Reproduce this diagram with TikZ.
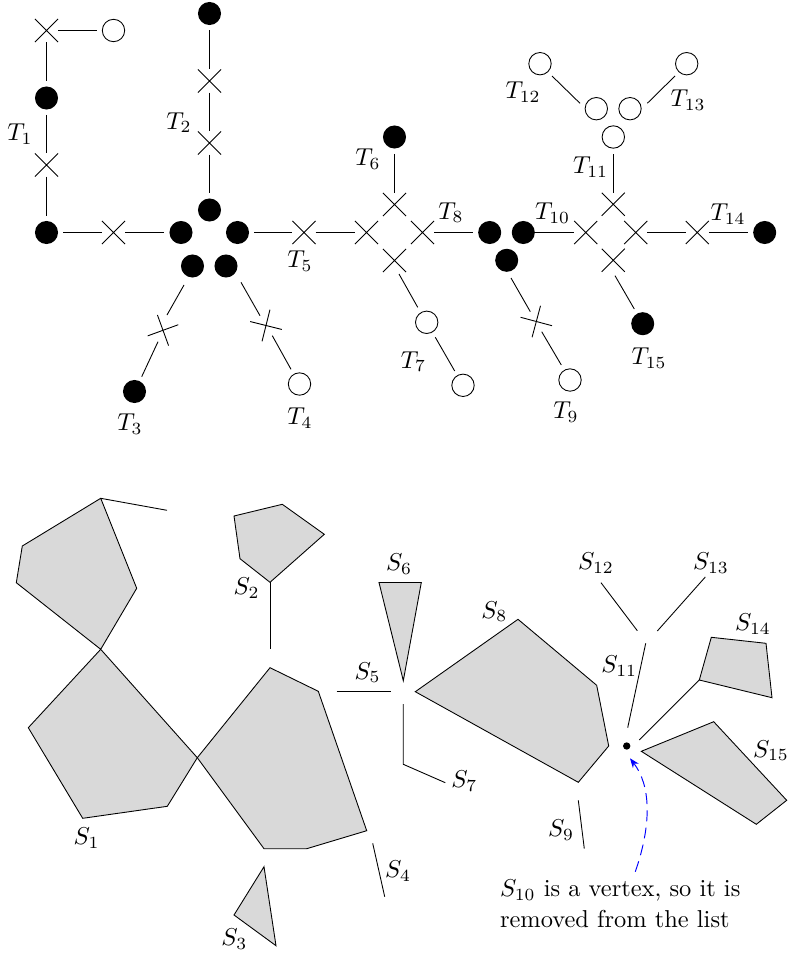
\documentclass[tikz,border=0pt]{standalone}
\usetikzlibrary{shapes.misc,arrows.meta}
\tikzset{
  blk/.style={circle,fill=black,minimum size=14.4pt,inner sep=0pt,outer sep=3.4pt},
  opn/.style={circle,draw=black,line width=0.55pt,minimum size=14pt,inner sep=0pt,outer sep=3.5pt},
  crs/.style={cross out,draw=black,line width=0.55pt,minimum size=14.4pt,inner sep=0pt,outer sep=0pt},
  lab/.style={inner sep=0pt,outer sep=0pt,scale=1.527},
  poly/.style={draw=black,fill=black!15,line width=0.55pt,line join=miter},
  seg/.style={draw=black,line width=0.55pt},
}
\newcommand{\off}[3]{([shift={(#2,#3)}]#1.center)}
\begin{document}
\begin{tikzpicture}[x=0.625pt,y=-0.625pt]
\useasboundingbox (0,0) rectangle (787,954);
% T tree nodes
\node[crs] (c1) at (46.5,30.5) {};
\node[opn] (o1) at (113.5,30.5) {};
\node[blk] (b1) at (46.5,98) {};
\node[crs] (c2) at (46.5,165) {};
\node[blk] (b2) at (46.5,232.5) {};
\node[crs] (c3) at (113.5,232.5) {};
\node[blk] (b3) at (181,232.5) {};
\node[blk] (b4) at (209.5,13.5) {};
\node[crs] (c4) at (209.5,81) {};
\node[crs] (c5) at (209.5,143) {};
\node[blk] (b5) at (209.5,210) {};
\node[blk] (b6) at (237.5,232.5) {};
\node[crs] (c6) at (304,232.5) {};
\node[crs] (c7) at (366.5,232.5) {};
\node[blk] (b7) at (192.5,266) {};
\node[blk] (b8) at (226,266) {};
\node[crs,rotate=-25] (c8) at (163,330.3) {};
\node[blk] (b9) at (134.5,391.5) {};
\node[crs,rotate=31] (c9) at (266,325.5) {};
\node[opn] (o2) at (299.5,384) {};
\node[blk] (b10) at (394.5,137) {};
\node[crs] (c10) at (394.5,204.5) {};
\node[crs] (c11) at (422.5,232.5) {};
\node[crs] (c12) at (394.5,260.5) {};
\node[opn] (o3) at (426.7,322.3) {};
\node[opn] (o4) at (463,385.3) {};
\node[blk] (b11) at (489.7,232.5) {};
\node[blk] (b12) at (523.3,232.5) {};
\node[blk] (b13) at (506.7,260.3) {};
\node[crs,rotate=30] (c13) at (536.3,321.5) {};
\node[opn] (o5) at (570,380) {};
\node[crs] (c14) at (585.7,232.5) {};
\node[crs] (c15) at (613.3,204.3) {};
\node[crs] (c16) at (635.7,232.5) {};
\node[crs] (c17) at (613.3,260.3) {};
\node[crs] (c18) at (697.3,232.5) {};
\node[blk] (b14) at (764.7,232.5) {};
\node[blk] (b15) at (642.7,323.7) {};
\node[opn] (o6) at (613.3,137) {};
\node[opn] (o7) at (596.3,108.7) {};
\node[opn] (o8) at (630,108.7) {};
\node[opn] (o9) at (540,63.7) {};
\node[opn] (o10) at (686.7,63.7) {};
% T tree connectors
\foreach \a/\b in {c1/o1,c1/b1,b1/c2,c2/b2,b2/c3,c3/b3,b4/c4,c4/c5,c5/b5,b6/c6,c6/c7,
  b10/c10,c11/b11,c15/o6,c16/c18,c18/b14}
  \draw[seg] (\a) -- (\b);
\draw[seg] \off{b12}{11.5}{0} -- (c14);
\draw[seg] \off{b7}{-8.5}{19} -- \off{c8}{4}{-15.3};
\draw[seg] \off{c8}{-5}{11.4} -- \off{b9}{7.2}{-14.8};
\draw[seg] \off{b8}{15}{16.3} -- \off{c9}{-6}{-9.8};
\draw[seg] \off{c9}{6.3}{10.2} -- \off{o2}{-8.5}{-14.7};
\draw[seg] \off{c12}{4.5}{13.5} -- \off{o3}{-9}{-15};
\draw[seg] \off{o3}{8.6}{15} -- \off{o4}{-8.3}{-14.3};
\draw[seg] \off{b13}{4.3}{17.7} -- \off{c13}{-6}{-9.8};
\draw[seg] \off{c13}{5.4}{10.2} -- \off{o5}{-8.7}{-15};
\draw[seg] \off{c17}{1.7}{15.4} -- \off{b15}{-8.4}{-14.7};
\draw[seg] \off{o9}{12}{12.3} -- \off{o7}{-16.3}{-5.4};
\draw[seg] \off{o10}{-11.7}{12.3} -- \off{o8}{17.3}{-5.4};
% T labels
\node[lab] (t1) at (20,134) {$T_1$};
\node[lab] (t2) at (179,122.5) {$T_2$};
\node[lab] (t3) at (130,424) {$T_3$};
\node[lab] (t4) at (300,418) {$T_4$};
\node[lab] (t5) at (300,261) {$T_5$};
\node[lab] (t6) at (368,159) {$T_6$};
\node[lab] (t7) at (413.5,361.7) {$T_7$};
\node[lab] (t8) at (451,212.7) {$T_8$};
\node[lab] (t9) at (566,412.3) {$T_9$};
\node[lab] (t10) at (552.7,213.3) {$T_{10}$};
\node[lab] (t11) at (590.7,167.3) {$T_{11}$};
\node[lab] (t12) at (523,92.3) {$T_{12}$};
\node[lab] (t13) at (688,100) {$T_{13}$};
\node[lab] (t14) at (728,214) {$T_{14}$};
\node[lab] (t15) at (649,358.3) {$T_{15}$};
% S polygons
\draw[poly] (100.7,498.3) -- (136.7,588.3) -- (100.7,649.3) -- (16.3,582.7) -- (22.3,546) -- cycle;
\draw[seg] (100.7,498.3) -- (167,510.3);
\draw[poly] (100.7,649.3) -- (197.3,757.7) -- (167.3,806.3) -- (82.7,818.3) -- (28.3,727.7) -- cycle;
\draw[poly] (197.3,757.7) -- (270,667.7) -- (318.3,691.3) -- (366.7,830.7) -- (306.7,848.7) -- (264,848.7) -- cycle;
\draw[poly] (234,516) -- (282.3,504.3) -- (324.3,534.3) -- (270,582.3) -- (240,558.7) -- cycle;
\draw[seg] (270,582.3) -- (270,649);
\draw[poly] (264,866.7) -- (276,945.7) -- (234,915) -- cycle;
\draw[seg] (372.7,843.3) -- (384.7,896.7);
\draw[seg] (336.7,691.3) -- (390.7,691.3);
\draw[poly] (379,582.5) -- (421.3,582.5) -- (403.3,680.7) -- cycle;
\draw[seg] (403.3,704) -- (403.3,764.3) -- (445.3,782.7);
\draw[poly] (415.3,691.7) -- (518,619.3) -- (596.7,685.3) -- (608.7,746) -- (578.3,782.3) -- cycle;
\draw[seg] (578.3,800.3) -- (584.3,848.7);
\draw[seg] (645.7,643.3) -- (627.7,727.7);
\draw[seg] (601,582.7) -- (637.3,630.7);
\draw[seg] (705.3,577) -- (657.3,631);
\draw[poly] (699.3,680) -- (711.3,637.3) -- (766,643.3) -- (772,697.7) -- cycle;
\draw[seg] (699.3,680) -- (639.3,740);
\draw[poly] (641.3,751.3) -- (713.7,721.7) -- (786.7,800.3) -- (756.3,824.3) -- cycle;
% S labels
\node[lab] (s1) at (86.7,838.3) {$S_1$};
\node[lab] (s2) at (246.7,588.3) {$S_2$};
\node[lab] (s3) at (234.3,939) {$S_3$};
\node[lab] (s4) at (398,871) {$S_4$};
\node[lab] (s5) at (367.7,672.7) {$S_5$};
\node[lab] (s6) at (399,564) {$S_6$};
\node[lab] (s7) at (464.3,781) {$S_7$};
\node[lab] (s8) at (494.3,611.7) {$S_8$};
\node[lab] (s9) at (561,830) {$S_9$};
\node[lab] (s11) at (619.3,666) {$S_{11}$};
\node[lab] (s12) at (596,563.3) {$S_{12}$};
\node[lab] (s13) at (711,563.3) {$S_{13}$};
\node[lab] (s14) at (753,624) {$S_{14}$};
\node[lab] (s15) at (771,750.7) {$S_{15}$};
% note
\node[circle,fill=black,minimum size=4.6pt,inner sep=0pt] (dot) at (626.7,746) {};
\node[lab,anchor=base west,align=left] (note) at (500,927) {$S_{10}$ is a vertex, so it is\\[0.3pt]removed from the list};
\coordinate (arrowstart) at (635.3,871.7);
\draw[blue,line width=0.6pt,dash pattern=on 6.8pt off 4pt,-{Stealth[length=6pt,width=4.6pt]}] (arrowstart) .. controls (652.2,823) and (650.5,785) .. \off{dot}{3.3}{12.3};
\end{tikzpicture}
\end{document}
